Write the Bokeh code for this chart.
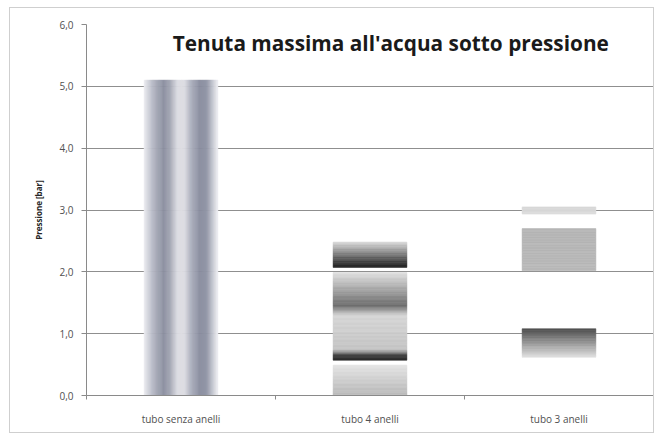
import numpy as np
from bokeh.plotting import figure
from bokeh.models import Range1d, FixedTicker, Label
from bokeh.embed import file_html
from bokeh.resources import INLINE

# ---------------- data ----------------
categories = ["tubo senza anelli", "tubo 4 anelli", "tubo 3 anelli"]
values = [5.1, 2.48, 3.05]
y_ticks = [0, 1, 2, 3, 4, 5, 6]
y_tick_labels = ["0,0", "1,0", "2,0", "3,0", "4,0", "5,0", "6,0"]
title_text = "Tenuta massima all'acqua sotto pressione"
y_label = "Pressione [bar]"

# ---------------- styles (texture fills, as fractions of bar) ----------------
BAR_WIDTH = 0.39
# bar 1: vertical cylinder-like stripes (fraction across width -> colour)
bar1_profile = [(0.00, "#eeeef2"), (0.12, "#b6b9c5"), (0.27, "#8b8fa0"),
                (0.35, "#a3a6b3"), (0.46, "#dedee4"), (0.55, "#dcdce2"),
                (0.64, "#aeb1be"), (0.76, "#888c9e"), (0.86, "#9498a8"),
                (0.95, "#cfd1d9"), (1.00, "#eeeef2")]
# bars 2 and 3: horizontal bands (fraction of height -> colour), gaps left white
bar2_bands = [
    [(0.000, "#b8b8b8"), (0.198, "#e3e3e3")],
    [(0.230, "#2a2a2a"), (0.262, "#3c3c3c"), (0.302, "#c4c4c4"),
     (0.524, "#d6d6d6"), (0.589, "#6c6c6c"), (0.802, "#e0e0e0")],
    [(0.835, "#2e2e2e"), (0.855, "#282828"), (1.000, "#d6d6d6")],
]
bar3_bands = [
    [(0.203, "#e2e2e2"), (0.354, "#4e4e4e")],
    [(0.662, "#b8b8b8"), (0.885, "#b5b5b5")],
    [(0.962, "#dcdcdc"), (1.000, "#d8d8d8")],
]


def h2r(h):
    h = h.lstrip("#")
    return np.array([int(h[i:i + 2], 16) for i in (0, 2, 4)], dtype=float)


def interp(stops, t):
    fs = [s[0] for s in stops]
    cs = [h2r(s[1]) for s in stops]
    for i in range(len(fs) - 1):
        if fs[i] <= t <= fs[i + 1]:
            u = 0 if fs[i + 1] == fs[i] else (t - fs[i]) / (fs[i + 1] - fs[i])
            c = cs[i] * (1 - u) + cs[i + 1] * u
            return "#%02x%02x%02x" % tuple(int(round(x)) for x in c)
    c = cs[-1] if t > fs[-1] else cs[0]
    return "#%02x%02x%02x" % tuple(int(round(x)) for x in c)


p = figure(width=645, height=426, output_backend="svg", toolbar_location=None,
           x_range=Range1d(0, len(categories)), y_range=Range1d(0, 6),
           min_border_left=76, min_border_top=16, min_border_bottom=39,
           min_border_right=2)
p.outline_line_color = None
p.background_fill_color = "white"
p.border_fill_color = "white"
p.styles = {"border": "1px solid #cfcfcf", "margin-left": "9px", "margin-top": "7px"}

L, R, B, T, C = [], [], [], [], []

# bar 1: vertical slices
x0 = 0.5 - BAR_WIDTH / 2
n = 80
for k in range(n):
    a = x0 + BAR_WIDTH * k / n
    b = x0 + BAR_WIDTH * (k + 1) / n
    L.append(a); R.append(b); B.append(0); T.append(values[0])
    C.append(interp(bar1_profile, (k + 0.5) / n))

# bars 2, 3: horizontal slices
for idx, bands in ((1, bar2_bands), (2, bar3_bands)):
    xc = idx + 0.5
    v = values[idx]
    for band in bands:
        f0, f1 = band[0][0], band[-1][0]
        m = max(4, int((f1 - f0) * 120))
        for k in range(m):
            fa = f0 + (f1 - f0) * k / m
            fb = f0 + (f1 - f0) * (k + 1) / m
            L.append(xc - BAR_WIDTH / 2); R.append(xc + BAR_WIDTH / 2)
            B.append(fa * v); T.append(fb * v)
            C.append(interp(band, (fa + fb) / 2))

p.quad(left=L, right=R, bottom=B, top=T, fill_color=C, line_color=C, line_width=0.6)

# axes
p.yaxis.ticker = FixedTicker(ticks=y_ticks, minor_ticks=[])
p.yaxis.major_label_overrides = {t: s for t, s in zip(y_ticks, y_tick_labels)}
p.yaxis.axis_label = y_label
p.yaxis.axis_label_text_font = "Open Sans"
p.yaxis.axis_label_text_font_style = "bold"
p.yaxis.axis_label_text_font_size = "8px"
p.yaxis.axis_label_text_color = "#262626"
p.yaxis.axis_label_standoff = 12
p.yaxis.major_tick_out = 5
p.yaxis.major_tick_in = 0
p.yaxis.major_label_standoff = 8

centers = [i + 0.5 for i in range(len(categories))]
p.xaxis.ticker = FixedTicker(ticks=centers,
                             minor_ticks=list(range(len(categories) + 1)))
p.xaxis.major_label_overrides = {c: s for c, s in zip(centers, categories)}
p.xaxis.major_tick_out = 0
p.xaxis.major_tick_in = 0
p.xaxis.minor_tick_out = 4
p.xaxis.minor_tick_in = 0
p.xaxis.major_label_standoff = 12

for ax in (p.xaxis, p.yaxis):
    ax.axis_line_color = "#8a8a8a"
    ax.major_tick_line_color = "#8a8a8a"
    ax.minor_tick_line_color = "#8a8a8a"
    ax.major_label_text_font = "Open Sans"
    ax.major_label_text_font_size = "10px"
    ax.major_label_text_color = "#505050"

p.xgrid.grid_line_color = None
p.ygrid.ticker = FixedTicker(ticks=y_ticks)
p.ygrid.grid_line_color = "#8f8f8f"
p.ygrid.grid_line_width = 1

p.add_layout(Label(x=1.61, y=5.70, text=title_text, text_align="center",
                   text_baseline="middle", text_font="Open Sans",
                   text_font_style="bold", text_font_size="20.8px",
                   text_color="#1a1a1a"))

open("out.html", "w").write(file_html(p, INLINE))
